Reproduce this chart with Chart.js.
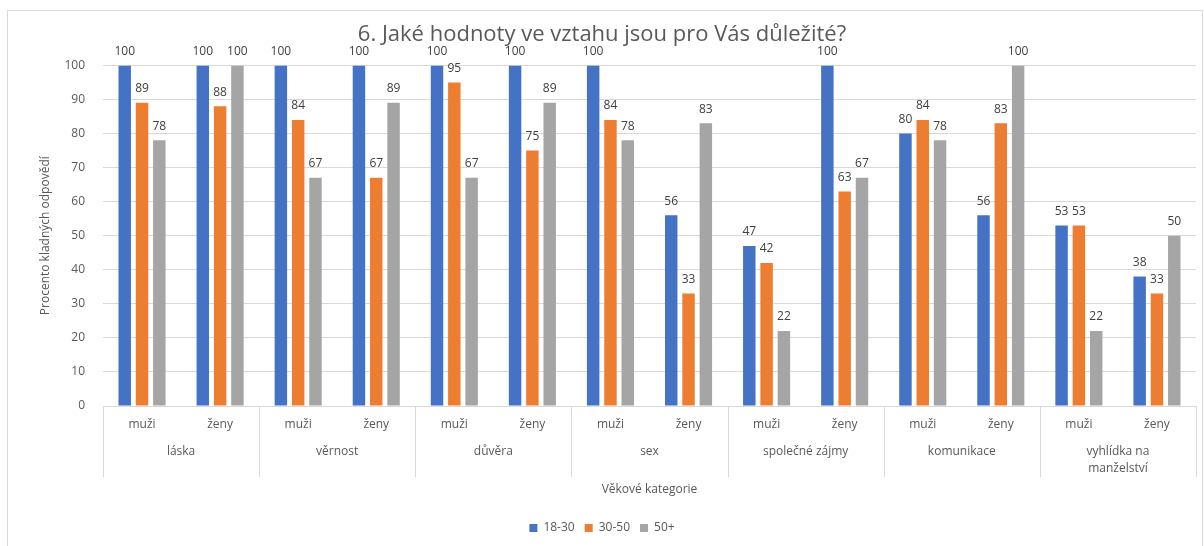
<!DOCTYPE html>
<html>
<head>
<meta charset="utf-8">
<script src="https://cdn.jsdelivr.net/npm/chart.js@4.4.1/dist/chart.umd.min.js"></script>
<style>
  html, body { margin: 0; padding: 0; background: #fff; }
  body { width: 1204px; height: 546px; position: relative; overflow: hidden; }
  #box { position: absolute; left: 7px; top: 10px; width: 1194px; height: 545px; border: 1px solid #d9d9d9; }
  #wrap { position: absolute; left: 0; top: 0; width: 1190px; height: 535px; }
</style>
</head>
<body>
<div id="box"><div id="wrap"><canvas id="chart"></canvas></div></div>
<script>
// Hodnoty kategorií
const groups = ["láska", "věrnost", "důvěra", "sex", "společné zájmy", "komunikace", ["vyhlídka na", "manželství"]];
const subLabels = ["muži", "ženy"];
const seriesNames = ["18-30", "30-50", "50+"];
const colors = ["#4472C4", "#ED7D31", "#A5A5A5"];

// procenta (muži, ženy) pro každou kategorii
const v18_30 = [100, 100, 100, 100, 100, 100, 100, 56, 47, 100, 80, 56, 53, 38];
const v30_50 = [89, 88, 84, 67, 95, 75, 84, 33, 42, 63, 84, 83, 53, 33];
const v50plus = [78, 100, 67, 89, 67, 89, 78, 83, 22, 67, 78, 100, 22, 50];
const yTicks = [0, 10, 20, 30, 40, 50, 60, 70, 80, 90, 100];

const labels = [];
groups.forEach(() => subLabels.forEach(s => labels.push(s)));

const font = "'Open Sans', 'Liberation Sans', sans-serif";
const textColor = "#595959";

// popisky hodnot nad sloupci
const valueLabels = {
  id: "valueLabels",
  afterDatasetsDraw(chart) {
    const ctx = chart.ctx;
    ctx.save();
    ctx.font = "12px " + font;
    ctx.fillStyle = "#404040";
    ctx.textAlign = "center";
    ctx.textBaseline = "middle";
    chart.data.datasets.forEach((ds, i) => {
      chart.getDatasetMeta(i).data.forEach((bar, j) => {
        ctx.fillText(ds.data[j], bar.x, bar.y - 14);
      });
    });
    ctx.restore();
  }
};

// dvouúrovňová osa x
const groupAxis = {
  id: "groupAxis",
  afterDraw(chart) {
    const x = chart.scales.x;
    const ctx = chart.ctx;
    const slot = x.width / labels.length;
    const top = x.top;
    ctx.save();
    ctx.strokeStyle = "#d9d9d9";
    ctx.lineWidth = 1;
    for (let g = 0; g <= groups.length; g++) {
      const px = Math.round(x.left + g * 2 * slot) + 0.5;
      ctx.beginPath();
      ctx.moveTo(px, top);
      ctx.lineTo(px, top + 71);
      ctx.stroke();
    }
    ctx.font = "12px " + font;
    ctx.fillStyle = textColor;
    ctx.textAlign = "center";
    ctx.textBaseline = "middle";
    groups.forEach((g, i) => {
      const cx = (x.getPixelForValue(2 * i) + x.getPixelForValue(2 * i + 1)) / 2;
      const lines = Array.isArray(g) ? g : [g];
      lines.forEach((t, k) => ctx.fillText(t, cx, top + 46 + k * 17));
    });
    ctx.restore();
  }
};

new Chart(document.getElementById("chart"), {
  type: "bar",
  data: {
    labels: labels,
    datasets: [
      { label: seriesNames[0], data: v18_30, backgroundColor: colors[0] },
      { label: seriesNames[1], data: v30_50, backgroundColor: colors[1] },
      { label: seriesNames[2], data: v50plus, backgroundColor: colors[2] }
    ]
  },
  options: {
    responsive: true,
    maintainAspectRatio: false,
    animation: false,
    categoryPercentage: 0.665,
    barPercentage: 0.72,
    layout: { padding: { left: 0, right: 2, top: 0, bottom: 2 } },
    plugins: {
      title: {
        display: true,
        text: "6. Jaké hodnoty ve vztahu jsou pro Vás důležité?",
        color: textColor,
        font: { family: font, size: 22, weight: "normal" },
        padding: { top: 11, bottom: 17 }
      },
      legend: {
        position: "bottom",
        labels: {
          color: textColor,
          font: { family: font, size: 12 },
          boxWidth: 8,
          boxHeight: 8,
          padding: 10
        }
      },
      tooltip: { enabled: false }
    },
    scales: {
      x: {
        grid: { display: false },
        border: { display: false },
        ticks: { color: textColor, font: { family: font, size: 12 }, padding: 3, maxRotation: 0 },
        title: {
          display: true,
          text: "Věkové kategorie",
          color: textColor,
          font: { family: font, size: 12 },
          padding: { top: 0, bottom: 15 }
        },
        afterFit(scale) { scale.height = 106; }
      },
      y: {
        min: 0,
        max: 100,
        afterBuildTicks(scale) { scale.ticks = yTicks.map(v => ({ value: v })); },
        grid: { color: "#d9d9d9", drawTicks: false },
        border: { display: false },
        ticks: { color: textColor, font: { family: font, size: 12 }, padding: 18 },
        title: {
          display: true,
          text: "Procento kladných odpovědí",
          color: textColor,
          font: { family: font, size: 12 },
          padding: { top: 30, bottom: 0 }
        },
        afterFit(scale) { scale.width = 95; }
      }
    }
  },
  plugins: [valueLabels, groupAxis]
});
</script>
</body>
</html>
